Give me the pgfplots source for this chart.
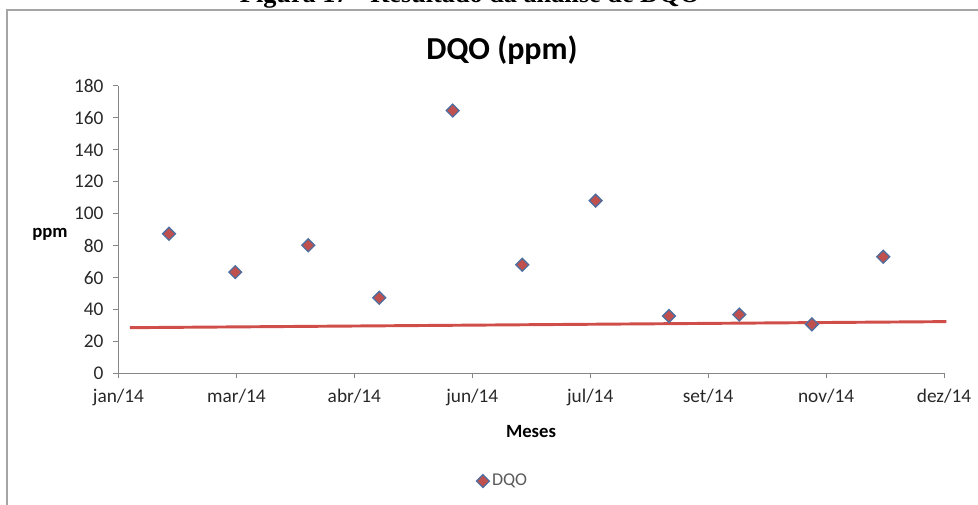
\documentclass[border=0pt]{standalone}
\usepackage{pgfplots}
\pgfplotsset{compat=1.18}
\usepackage{fontspec}
\setmainfont{Carlito}
\newfontfamily\capfont{Liberation Serif}
\definecolor{axgray}{RGB}{134,134,134}
\definecolor{lblack}{RGB}{40,40,40}
\definecolor{leggray}{RGB}{89,89,89}
\definecolor{redline}{RGB}{208,78,74}
\definecolor{mfill}{RGB}{192,80,77}
\definecolor{medge}{RGB}{79,110,160}
\definecolor{framec}{RGB}{165,165,165}
\begin{document}
\begin{tikzpicture}
\useasboundingbox (0,0) rectangle (733.5pt,378pt);
\draw[framec, line width=0.9pt] (5.25pt,-10pt) -- (5.25pt,370.5pt) -- (745pt,370.5pt);
\node[anchor=base, inner sep=0pt] at (352.5pt,376pt) {\resizebox{345pt}{!}{\capfont\bfseries Figura 17 - Resultado da análise de DQO}};
\node[anchor=base, inner sep=0pt, font=\fontsize{24}{28}\selectfont\bfseries] at (376.5pt,333pt) {DQO (ppm)};
\node[anchor=base, inner sep=0pt, font=\fontsize{14}{16}\selectfont\bfseries] at (37.5pt,199.9pt) {ppm};
\node[anchor=base, inner sep=0pt, font=\fontsize{14}{16}\selectfont\bfseries] at (398.25pt,50.25pt) {Meses};
\begin{axis}[
  at={(88.875pt,98pt)}, anchor=south west,
  scale only axis, width=619.125pt, height=215.5pt,
  xmin=0, xmax=7, ymin=0, ymax=180,
  ytick={0,20,...,180},
  xtick={0,...,7},
  xticklabels={jan/14,mar/14,abr/14,jun/14,jul/14,set/14,nov/14,dez/14},
  axis x line*=bottom, axis y line*=left,
  axis line style={draw=axgray, line width=0.75pt},
  tick style={draw=axgray, line width=0.75pt},
  tick align=outside, major tick length=3.75pt,
  ticklabel style={font=\fontsize{14.5}{17}\selectfont, text=lblack},
  yticklabel style={xshift=-4pt},
  xticklabel style={yshift=-4.5pt},
  /pgf/number format/assume math mode=true,
  clip=false,
  legend style={at={(0.466,-0.375)}, anchor=center, draw=none, fill=none,
    font=\fontsize{13.5}{16}\selectfont, text=leggray},
  legend image code/.code={\draw[#1] plot coordinates {(0.12cm,0cm)};},
]
\addplot[redline, line width=2.2pt, forget plot] coordinates {(0.097,28.6) (7.02,32.4)};
\addplot[only marks, mark=square*, mark size=3.4pt,
  mark options={rotate=45, fill=mfill, draw=medge, line width=1pt}]
  coordinates {(0.428,87.4) (0.990,63.4) (1.609,80.2) (2.211,47.3) (2.834,164.6) (3.424,68.0) (4.046,108.2) (4.668,35.9) (5.264,36.8) (5.880,30.7) (6.485,73.0)};
\addlegendentry{DQO}
\end{axis}
\end{tikzpicture}
\end{document}
